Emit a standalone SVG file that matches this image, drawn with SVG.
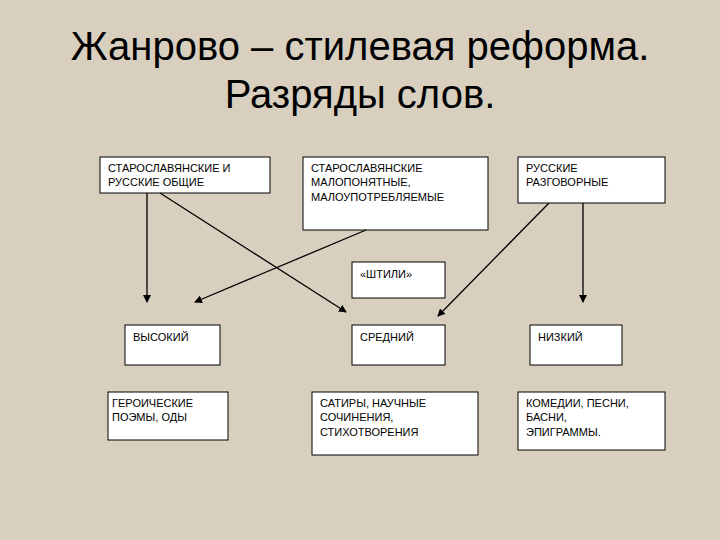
<svg xmlns="http://www.w3.org/2000/svg" width="720" height="540" viewBox="0 0 720 540">
<style>
.b{fill:#fff;stroke:#000;stroke-width:1}
.t{font-family:"Liberation Sans",Arial,sans-serif;font-size:11px;fill:#000}
.h{font-family:"Liberation Sans",Arial,sans-serif;font-size:40px;fill:#000;text-anchor:middle}
.c line{stroke:#000;stroke-width:1.3;marker-end:url(#a)}
</style>
<defs><marker id="a" markerWidth="8" markerHeight="8" refX="7" refY="4" orient="auto" markerUnits="userSpaceOnUse"><path d="M0,0L8,4L0,8z" fill="#000"/></marker></defs>
<rect width="720" height="540" fill="#d8cfbf"/>
<text class="h" x="360" y="60">Жанрово – стилевая реформа.</text>
<text class="h" x="360" y="108">Разряды слов.</text>
<g id="n1"><rect class="b" x="100" y="157" width="170" height="36"/><text class="t" x="108" y="172">СТАРОСЛАВЯНСКИЕ И</text><text class="t" x="108" y="186">РУССКИЕ ОБЩИЕ</text></g>
<g id="n2"><rect class="b" x="303" y="157" width="185" height="73"/><text class="t" x="311" y="172">СТАРОСЛАВЯНСКИЕ</text><text class="t" x="311" y="186">МАЛОПОНЯТНЫЕ,</text><text class="t" x="311" y="201">МАЛОУПОТРЕБЛЯЕМЫЕ</text></g>
<g id="n3"><rect class="b" x="518" y="157" width="147" height="46"/><text class="t" x="526" y="172">РУССКИЕ</text><text class="t" x="526" y="186">РАЗГОВОРНЫЕ</text></g>
<g id="n4"><rect class="b" x="352" y="262" width="93" height="36"/><text class="t" x="360" y="278">«ШТИЛИ»</text></g>
<g id="n5"><rect class="b" x="125" y="325" width="95" height="40"/><text class="t" x="133" y="341">ВЫСОКИЙ</text></g>
<g id="n6"><rect class="b" x="352" y="325" width="93" height="40"/><text class="t" x="360" y="341">СРЕДНИЙ</text></g>
<g id="n7"><rect class="b" x="530" y="325" width="92" height="40"/><text class="t" x="538" y="341">НИЗКИЙ</text></g>
<g id="n8"><rect class="b" x="108" y="392" width="120" height="48"/><text class="t" x="112" y="407">ГЕРОИЧЕСКИЕ</text><text class="t" x="112" y="421">ПОЭМЫ, ОДЫ</text></g>
<g id="n9"><rect class="b" x="312" y="392" width="166" height="63"/><text class="t" x="320" y="407">САТИРЫ, НАУЧНЫЕ</text><text class="t" x="320" y="421">СОЧИНЕНИЯ,</text><text class="t" x="320" y="436">СТИХОТВОРЕНИЯ</text></g>
<g id="n10"><rect class="b" x="518" y="392" width="147" height="58"/><text class="t" x="526" y="407">КОМЕДИИ, ПЕСНИ,</text><text class="t" x="526" y="421">БАСНИ,</text><text class="t" x="526" y="436">ЭПИГРАММЫ.</text></g>
<g class="c">
<line x1="147" y1="193" x2="147" y2="302"/>
<line x1="160" y1="193" x2="346" y2="312"/>
<line x1="366" y1="230" x2="195" y2="302"/>
<line x1="549" y1="203" x2="438" y2="316"/>
<line x1="583" y1="203" x2="583" y2="302"/>
</g>
</svg>
